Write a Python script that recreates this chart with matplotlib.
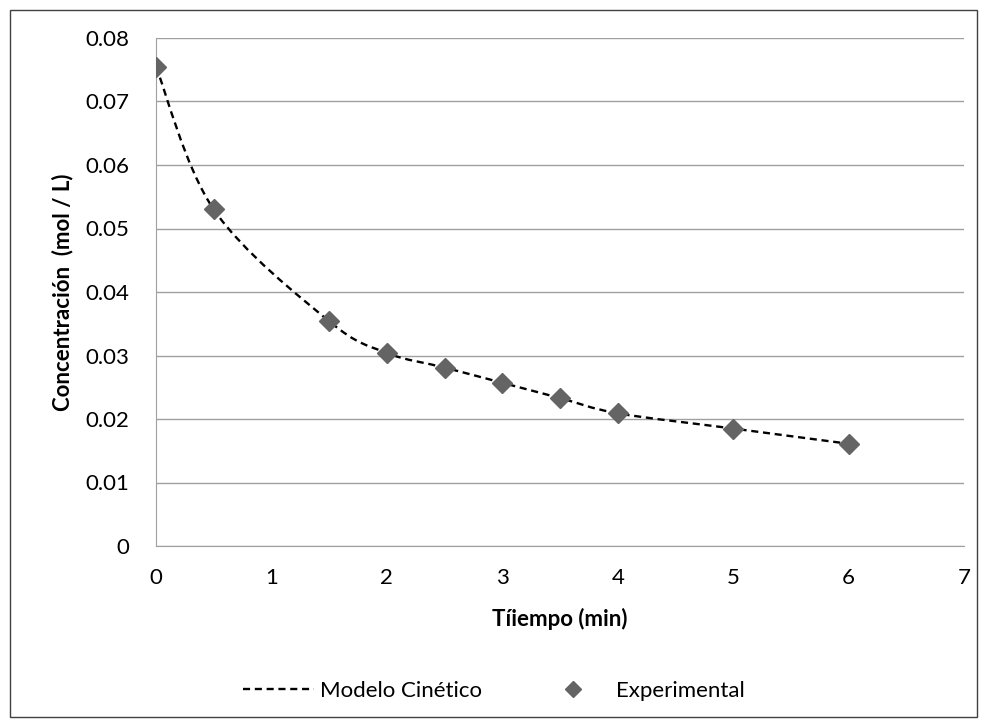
import matplotlib.pyplot as plt
import numpy as np
from matplotlib.path import Path
from matplotlib.patches import PathPatch, Rectangle
from matplotlib.lines import Line2D

plt.rcParams['font.family'] = ['Lato', 'DejaVu Sans']

tiempo = [0, 0.5, 1.5, 2, 2.5, 3, 3.5, 4, 5, 6]
concentracion = [0.0755, 0.0530, 0.0354, 0.0304, 0.0281, 0.0257, 0.0233, 0.0209, 0.0185, 0.0161]

x_ticks = [0, 1, 2, 3, 4, 5, 6, 7]
y_ticks = [0, 0.01, 0.02, 0.03, 0.04, 0.05, 0.06, 0.07, 0.08]
y_labels = ['0', '0.01', '0.02', '0.03', '0.04', '0.05', '0.06', '0.07', '0.08']


def smooth_path(xs, ys):
    # Excel-like smoothed line: cubic Bezier through each point
    pts = np.column_stack([xs, ys])
    n = len(pts)
    verts = [pts[0]]
    codes = [Path.MOVETO]
    for i in range(n - 1):
        p0 = pts[max(i - 1, 0)]
        p1 = pts[i]
        p2 = pts[i + 1]
        p3 = pts[min(i + 2, n - 1)]
        c1 = p1 + (p2 - p0) / 6
        c2 = p2 - (p3 - p1) / 6
        verts += [c1, c2, p2]
        codes += [Path.CURVE4] * 3
    return Path(verts, codes)


fig = plt.figure(figsize=(9.87, 7.27), dpi=100)
fig.patches.append(Rectangle((10 / 987, 10 / 727), 967 / 987, 707 / 727, transform=fig.transFigure,
                             fill=False, edgecolor='#404040', linewidth=1))
ax = fig.add_axes([156 / 987, 1 - 546 / 727, 808 / 987, 508 / 727])

patch = PathPatch(smooth_path(tiempo, concentracion), fill=False, edgecolor='black',
                  linewidth=1.7, linestyle=(0, (3, 2)), zorder=3)
ax.add_patch(patch)
ax.plot(tiempo, concentracion, linestyle='none', marker='D', markersize=10,
        color='#646464', zorder=4)

ax.set_xlim(0, 7)
ax.set_ylim(0, 0.08)
ax.set_xticks(x_ticks)
ax.set_yticks(y_ticks)
ax.set_yticklabels(y_labels)
ax.tick_params(length=0, labelsize=16, pad=16)
ax.tick_params(axis='y', pad=19)
ax.grid(axis='y', color='#a0a0a0', linewidth=1)
ax.set_axisbelow(True)
for s in ['top', 'right']:
    ax.spines[s].set_visible(False)
for s in ['left', 'bottom']:
    ax.spines[s].set_color('#a0a0a0')

ax.set_xlabel('Tíiempo (min)', fontsize=16, fontweight='bold', labelpad=14)
ax.set_ylabel('Concentración  (mol / L)', fontsize=16, fontweight='bold', labelpad=9)

handles = [Line2D([], [], color='black', linewidth=1.7, linestyle=(0, (3, 2))),
           Line2D([], [], linestyle='none', marker='D', markersize=8, color='#646464')]
fig.legend(handles, ['Modelo Cinético', 'Experimental'], loc='center', bbox_to_anchor=(0.5, 1 - 691 / 727),
           ncol=2, frameon=False, fontsize=16, handlelength=3.2, columnspacing=2.5, handletextpad=0.3)

fig.savefig('out.png', dpi=100)
